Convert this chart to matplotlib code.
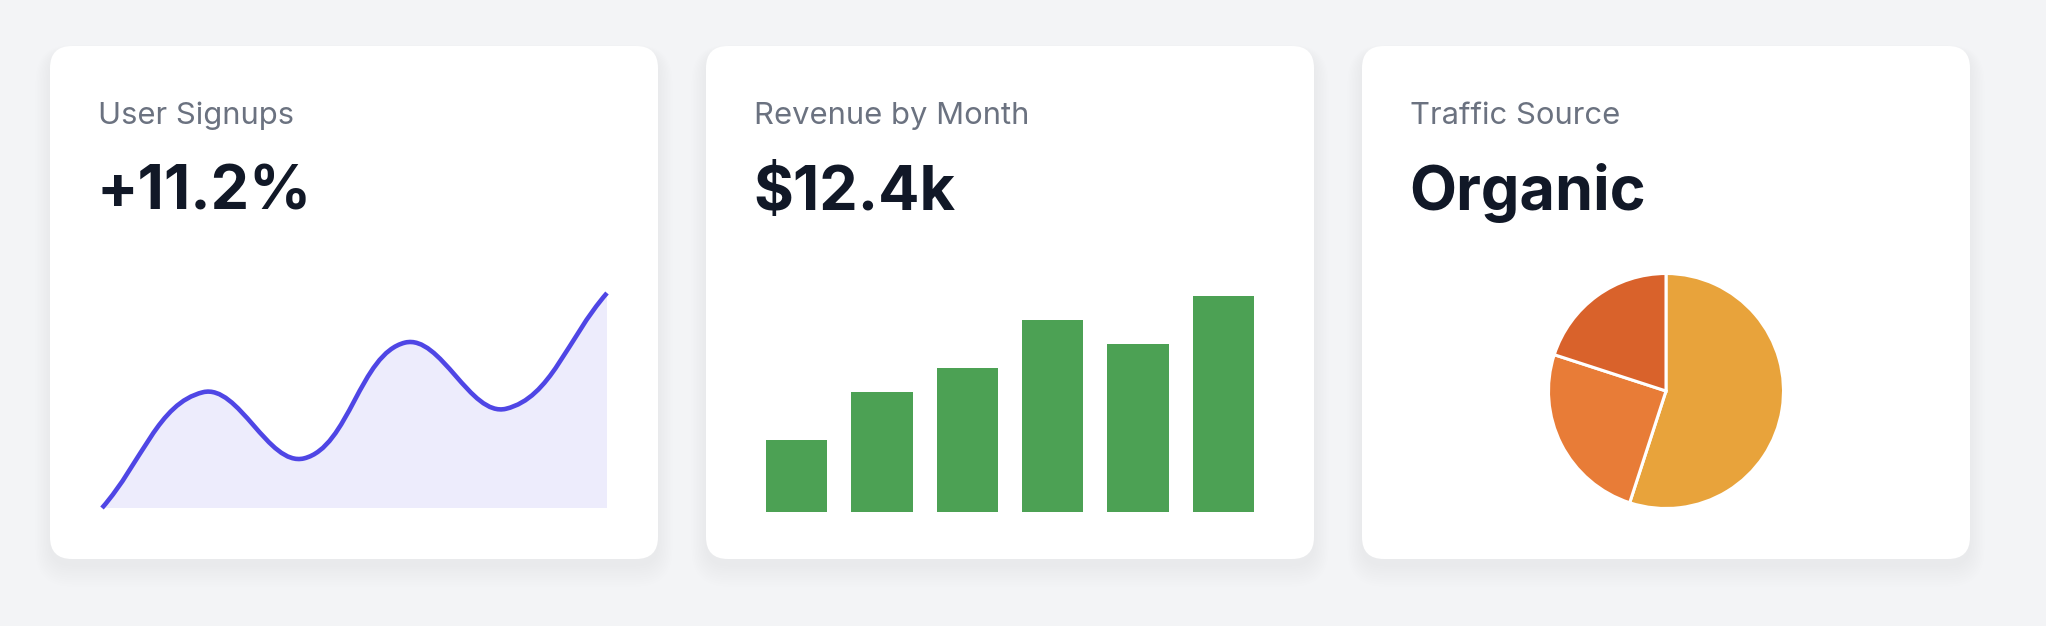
import matplotlib.pyplot as plt
import numpy as np
from matplotlib.patches import FancyBboxPatch, PathPatch
from matplotlib.path import Path

W, H = 2046, 626

# card texts
titles = ["User Signups", "Revenue by Month", "Traffic Source"]
headlines = ["+11.2%", "$12.4k", "Organic"]

# chart data
signups = [12, 19, 15, 22, 18, 25]
revenue = [3, 5, 6, 8, 7, 9]
traffic = [55, 25, 20]
traffic_colors = ["#e8a33b", "#e87c37", "#d9622b"]

card_x = [50, 706, 1362]
card_top, card_bottom, card_w = 46, 559, 608

fig = plt.figure(figsize=(W / 100, H / 100), dpi=100, facecolor="#f3f4f6")
bg = fig.add_axes([0, 0, 1, 1])
bg.set_xlim(0, W)
bg.set_ylim(H, 0)
bg.axis("off")


def px_axes(x0, y0, x1, y1):
    ax = fig.add_axes([x0 / W, 1 - y1 / H, (x1 - x0) / W, (y1 - y0) / H])
    ax.axis("off")
    return ax


# cards with a soft shadow
for cx in card_x:
    for k in range(10):
        grow = 1 + k * 1.5
        sh = FancyBboxPatch((cx - grow, card_top + 6 - grow * 0.5), card_w + 2 * grow,
                            card_bottom - card_top + 2 * grow,
                            boxstyle=f"round,pad=0,rounding_size={22 + grow}",
                            fc="black", ec="none", alpha=0.0035)
        bg.add_patch(sh)
    card = FancyBboxPatch((cx, card_top), card_w, card_bottom - card_top,
                          boxstyle="round,pad=0,rounding_size=22", fc="white", ec="none")
    bg.add_patch(card)

for cx, t, v in zip(card_x, titles, headlines):
    bg.text(cx + 48, 124, t, fontsize=22.3, family="Inter", color="#6b7280", va="baseline")
    bg.text(cx + 47, 210, v, fontsize=44, family="Inter", fontweight="bold",
            color="#111827", va="baseline")


# line chart: smooth curve like Chart.js tension 0.4
def spline_path(xs, ys, sx, sy, t=0.4):
    n = len(xs)
    lo, hi = min(ys), max(ys)
    cps = []
    for i in range(n):
        p = (xs[max(i - 1, 0)], ys[max(i - 1, 0)])
        c = (xs[i], ys[i])
        q = (xs[min(i + 1, n - 1)], ys[min(i + 1, n - 1)])
        d01 = np.hypot((c[0] - p[0]) * sx, (c[1] - p[1]) * sy)
        d12 = np.hypot((q[0] - c[0]) * sx, (q[1] - c[1]) * sy)
        s01 = d01 / (d01 + d12)
        s12 = d12 / (d01 + d12)
        fa, fb = t * s01, t * s12
        pcp = [c[0] - fa * (q[0] - p[0]), c[1] - fa * (q[1] - p[1])]
        ncp = [c[0] + fb * (q[0] - p[0]), c[1] + fb * (q[1] - p[1])]
        pcp = [min(max(pcp[0], 0), n - 1), min(max(pcp[1], lo), hi)]
        ncp = [min(max(ncp[0], 0), n - 1), min(max(ncp[1], lo), hi)]
        cps.append((pcp, ncp))
    verts = [(xs[0], ys[0])]
    codes = [Path.MOVETO]
    for i in range(n - 1):
        verts += [tuple(cps[i][1]), tuple(cps[i + 1][0]), (xs[i + 1], ys[i + 1])]
        codes += [Path.CURVE4] * 3
    return verts, codes


lx0, lx1, ly0, ly1 = 102, 607, 293, 508
ax1 = px_axes(lx0, ly0, lx1, ly1)
xs = list(range(len(signups)))
ax1.set_xlim(0, len(signups) - 1)
ax1.set_ylim(min(signups), max(signups))
sx = (lx1 - lx0) / (len(signups) - 1)
sy = (ly1 - ly0) / (max(signups) - min(signups))
verts, codes = spline_path(xs, signups, sx, sy)
fill_verts = verts + [(xs[-1], min(signups)), (xs[0], min(signups)), verts[0]]
fill_codes = codes + [Path.LINETO, Path.LINETO, Path.CLOSEPOLY]
ax1.add_patch(PathPatch(Path(fill_verts, fill_codes), fc="#4f46e5", alpha=0.1, ec="none"))
ax1.add_patch(PathPatch(Path(verts, codes), fc="none", ec="#4f46e5", lw=3.3,
                        capstyle="butt", joinstyle="round", clip_on=False))

# bar chart
ax2 = px_axes(754, 296, 1266, 512)
ax2.bar(range(len(revenue)), revenue, width=0.72, color="#4ca154")
ax2.set_xlim(-0.5, len(revenue) - 0.5)
ax2.set_ylim(0, max(revenue))

# pie chart
pcx, pcy, r = 1666, 391, 117.5
ax3 = px_axes(pcx - r, pcy - r, pcx + r, pcy + r)
ax3.pie(traffic, colors=traffic_colors, startangle=90, counterclock=False, radius=1,
        wedgeprops=dict(edgecolor="white", linewidth=2.2))
ax3.set_xlim(-1, 1)
ax3.set_ylim(-1, 1)

fig.savefig("out.png", dpi=100, facecolor=fig.get_facecolor())
